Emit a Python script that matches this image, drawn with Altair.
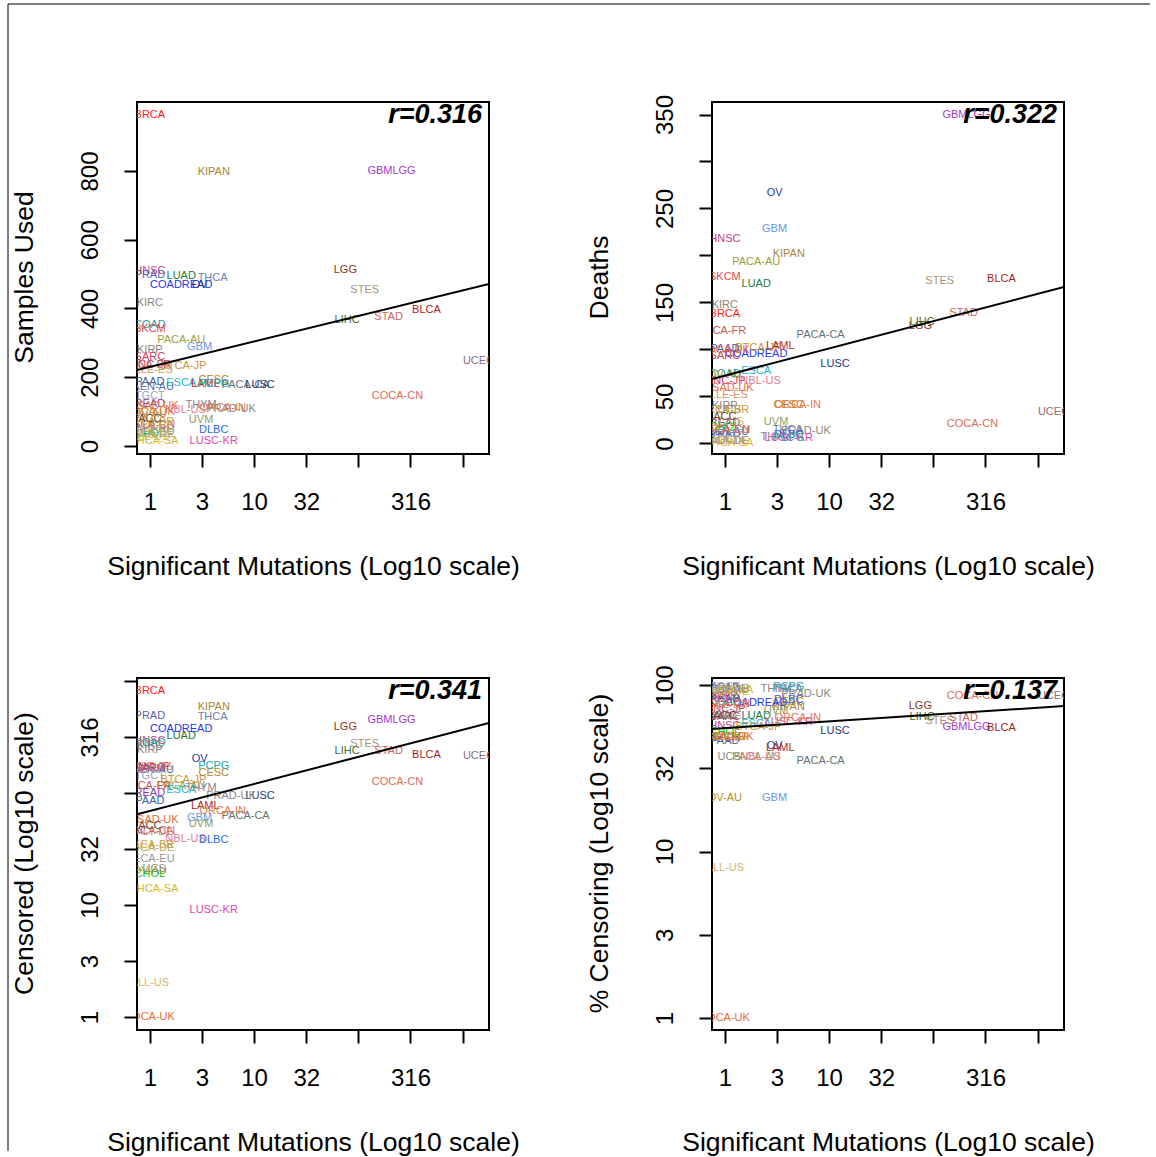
import altair as alt
import pandas as pd

FONT = "Liberation Sans"

# ---------------- data ----------------
cohorts = ["BRCA", "KIPAN", "GBMLGG", "HNSC", "PRAD", "LUAD", "THCA", "COADREAD", "OV", "LGG",
           "STES", "LIHC", "STAD", "BLCA", "UCEC", "COCA-CN", "KIRC", "COAD", "SKCM", "PACA-AU",
           "GBM", "KIRP", "SARC", "LINC-JP", "BTCA-JP", "CLLE-ES", "LICA-FR", "PAAD", "ESCA", "LAML",
           "CESC", "PACA-CA", "LUSC", "PAEN-AU", "TGCT", "READ", "ESAD-UK", "NBL-US", "THYM", "PRAD-UK",
           "UVM", "DLBC", "LUSC-KR", "PCPG", "ORCA-IN", "ALL-US", "BOCA-UK", "OV-AU", "THCA-SA", "CHOL",
           "UCS", "RECA-EU", "MALY-DE", "PBCA-DE", "GACA-CN", "SKCA-BR", "ACC"]
mutations = [1.0, 4.1, 208, 1.0, 1.0, 2.0, 4.0, 2.0, 3.0, 75,
             115, 78, 195, 450, 1420, 237, 1.0, 1.0, 1.0, 2.0,
             3.0, 1.0, 1.0, 1.0, 2.1, 1.0, 1.0, 1.0, 2.0, 3.4,
             4.1, 8.3, 11.4, 1.0, 1.0, 1.0, 1.1, 2.2, 3.1, 6.0,
             3.1, 4.1, 4.1, 4.1, 5.0, 1.0, 1.0, 1.0, 1.1, 1.0,
             1.1, 1.0, 1.0, 1.0, 1.0, 1.0, 1.0]
samples_used = [963, 797, 800, 509, 497, 495, 489, 468, 468, 512,
                454, 367, 375, 396, 247, 145, 416, 352, 340, 308,
                288, 279, 259, 236, 233, 221, 235, 185, 183, 180,
                192, 177, 177, 172, 145, 122, 116, 105, 119, 108,
                76, 47, 15, 180, 110, 25, 100, 93, 15, 36,
                57, 40, 48, 35, 60, 70, 79]
deaths = [138, 202, 349, 218, 10, 170, 14, 95, 267, 125,
          173, 129, 139, 175, 33, 21, 147, 74, 177, 193,
          228, 40, 93, 66, 102, 52, 120, 100, 77, 104,
          41, 115, 85, 12, 4, 22, 59, 66, 7, 13,
          23, 9, 6, 6, 41, 23, 99, 73, 1, 18,
          36, 14, 3, 3, 14, 36, 28]
censored = [815, 588, 449, 293, 487, 322, 478, 373, 200, 388,
            276, 237, 237, 218, 214, 125, 269, 278, 163, 116,
            60, 240, 166, 170, 131, 169, 115, 85, 106, 76,
            151, 62, 94, 160, 141, 100, 57, 39, 112, 95,
            53, 38, 9, 174, 69, 2, 1, 20, 14, 19,
            21, 26, 45, 32, 46, 34, 51]
pct_censoring = [85, 74, 56, 57, 96, 65, 95, 78, 43, 75,
                 61, 64, 63, 55, 86, 86, 65, 79, 48, 37,
                 21, 86, 64, 72, 56, 76, 49, 46, 58, 42,
                 79, 35, 53, 93, 97, 82, 49, 37, 94, 88,
                 70, 81, 60, 97, 63, 8, 1, 21, 93, 52,
                 37, 65, 94, 91, 77, 49, 65]
colors = ["#FF1A1A", "#A8843C", "#A33ACB", "#C43C86", "#5A62A8", "#257A36", "#6B80AE", "#2436F0", "#243A9C", "#8E3222",
          "#A8937A", "#436B22", "#C8685E", "#A21E22", "#8F6A7C", "#E06A58", "#8C8474", "#1BA4A0", "#E04848", "#9EA03A",
          "#6A96E8", "#8A7E80", "#C83A5E", "#C8386A", "#C8973C", "#D49A6A", "#C05A5A", "#3B62A4", "#22B6D2", "#B2282A",
          "#B8861E", "#667272", "#22397A", "#5A70B0", "#9AA2BC", "#8A3AA4", "#E86A3A", "#E07A96", "#8E7E92", "#8E8484",
          "#8EA05A", "#2A66F0", "#E048A8", "#22A8A8", "#E0784A", "#D8B46A", "#E8683E", "#B88E1E", "#D8B828", "#18C418",
          "#8A8A7A", "#9A9A9A", "#A89090", "#B8A858", "#D86A50", "#C8A030", "#6A4A2A"]

# axis ticks / labels
x_ticks = [1, 3.1623, 10, 31.623, 100, 316.23, 1000]
x_tick_labels = ["1", "3", "10", "32", "", "316", ""]
x_domain = [0.753, 1791]

samples_ticks = [0, 200, 400, 600, 800]
samples_tick_labels = ["0", "200", "400", "600", "800"]
deaths_ticks = [0, 50, 100, 150, 200, 250, 300, 350]
deaths_tick_labels = ["0", "50", "", "150", "", "250", "", "350"]
censored_ticks = [1, 3.1623, 10, 31.623, 100, 316.23, 1000]
censored_tick_labels = ["1", "3", "10", "32", "", "316", ""]
pct_ticks = [1, 3.1623, 10, 31.623, 100]
pct_tick_labels = ["1", "3", "10", "32", "100"]

# fitted regression lines (value at the left and right edge of the x range)
fit_samples = [221, 471]
fit_deaths = [68.6, 166.5]
fit_censored = [64.6, 422]
fit_pct = [54.5, 74.8]

r_values = ["r=0.316", "r=0.322", "r=0.341", "r=0.137"]

x_title = "Significant Mutations (Log10 scale)"

df = pd.DataFrame({
    "cohort": cohorts,
    "mutations": mutations,
    "samples": samples_used,
    "deaths": deaths,
    "censored": censored,
    "pct": pct_censoring,
})

W = 352
H = 352


def label_expr(vals, labs):
    s = ""
    for v, l in zip(vals, labs):
        s += f"abs(datum.value - {v}) < {abs(v) * 0.02 + 0.001} ? '{l}' : "
    return s + "''"


def make_panel(ycol, ytype, ydomain, yticks, ylabels, ytitle, fit, rtext, frame=False):
    xenc = alt.X(
        "mutations:Q",
        scale=alt.Scale(type="log", domain=x_domain, nice=False, zero=False),
        axis=alt.Axis(
            values=x_ticks, labelExpr=label_expr(x_ticks, x_tick_labels),
            title=x_title, titleX=W / 2, titleY=112, titleAlign="center", titleBaseline="middle",
            labelPadding=23, labelBaseline="top", labelAlign="center", labelFlush=False,
            labelOverlap=False,
        ),
    )
    yenc = alt.Y(
        f"{ycol}:Q",
        scale=alt.Scale(type=ytype, domain=ydomain, nice=False, zero=False),
        axis=alt.Axis(
            values=yticks, labelExpr=label_expr(yticks, ylabels),
            title=ytitle, titleX=-113, titleY=H / 2 - 1, titleAngle=270, titleAlign="center",
            titleBaseline="middle",
            labelAngle=270, labelAlign="center", labelBaseline="bottom", labelPadding=22,
            labelFlush=False, labelOverlap=False,
        ),
    )
    d = df[df[ycol] > 0]
    labels = alt.Chart(d).mark_text(fontSize=11, font=FONT, clip=True).encode(
        x=xenc, y=yenc, text="cohort:N",
        color=alt.Color("cohort:N", scale=alt.Scale(domain=cohorts, range=colors), legend=None),
    )
    fdf = pd.DataFrame({"mutations": x_domain, ycol: fit})
    line = alt.Chart(fdf).mark_line(color="black", strokeWidth=2, clip=True).encode(
        x=alt.X("mutations:Q"), y=alt.Y(f"{ycol}:Q")
    )
    rdf = pd.DataFrame({"r": [rtext]})
    rlab = alt.Chart(rdf).mark_text(
        font=FONT, fontSize=27, fontWeight="bold", fontStyle="italic", align="right",
        baseline="alphabetic", color="black",
    ).encode(x=alt.value(W - 7), y=alt.value(21), text="r:N")
    layers = [labels, line, rlab]
    if frame:
        fr = pd.DataFrame({"k": [0]})
        vline = alt.Chart(fr).mark_rule(color="black", strokeWidth=1).encode(
            x=alt.value(-129), y=alt.value(-98), y2=alt.value(1049))
        hline = alt.Chart(fr).mark_rule(color="black", strokeWidth=1).encode(
            x=alt.value(-129), x2=alt.value(1013), y=alt.value(-98))
        layers += [vline, hline]
    return alt.layer(*layers).properties(width=W, height=H)


p1 = make_panel("samples", "linear", [-23.3, 1000.7], samples_ticks, samples_tick_labels,
                "Samples Used", fit_samples, r_values[0], frame=True)
p2 = make_panel("deaths", "linear", [-11.2, 363.3], deaths_ticks, deaths_tick_labels,
                "Deaths", fit_deaths, r_values[1])
p3 = make_panel("censored", "log", [0.766, 1064], censored_ticks, censored_tick_labels,
                "Censored (Log10 scale)", fit_censored, r_values[2])
p4 = make_panel("pct", "log", [0.847, 110.2], pct_ticks, pct_tick_labels,
                "% Censoring (Log10 scale)", fit_pct, r_values[3])

chart = alt.concat(
    p1, p2, p3, p4, columns=2, spacing={"row": 224, "column": 223}, bounds="flush"
).properties(
    padding={"left": 6, "top": 2, "right": 0, "bottom": 0},
    background="white",
).configure_view(
    stroke="black", strokeWidth=2
).configure_axis(
    labelFont=FONT, titleFont=FONT, labelFontSize=24, titleFontSize=26.5,
    labelColor="black", titleColor="black", titleFontWeight="normal",
    tickColor="black", tickSize=13, tickWidth=2, domain=False, grid=False,
)

chart.save("out.html", embed_options={"renderer": "svg", "actions": False})
